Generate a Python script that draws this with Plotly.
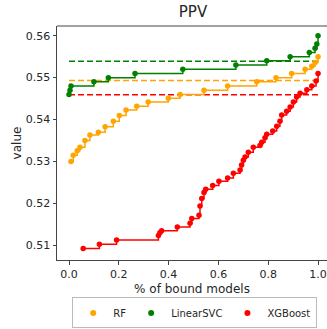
import plotly.graph_objects as go

# ---- data ----
rf_x = [0.008, 0.017, 0.033, 0.044, 0.064, 0.084, 0.118, 0.145, 0.178, 0.202, 0.229, 0.272,
        0.318, 0.399, 0.446, 0.542, 0.637, 0.754, 0.831, 0.894, 0.948, 0.975, 0.988, 1.0]
rf_y = [0.530, 0.5315, 0.5326, 0.5334, 0.535, 0.5363, 0.537, 0.5383, 0.5396, 0.541, 0.5423, 0.5432,
        0.5442, 0.5451, 0.546, 0.547, 0.548, 0.549, 0.550, 0.551, 0.552, 0.5527, 0.5536, 0.555]

svc_x = [0.0, 0.004, 0.008, 0.10, 0.158, 0.265, 0.457, 0.67, 0.794, 0.888, 0.965, 0.988, 0.995, 1.0]
svc_y = [0.546, 0.547, 0.548, 0.549, 0.550, 0.551, 0.552, 0.553, 0.554, 0.555, 0.556, 0.557, 0.558, 0.560]

xgb_x = [0.057, 0.122, 0.191, 0.359, 0.365, 0.372, 0.435, 0.486, 0.493, 0.522,
         0.526, 0.533, 0.542, 0.549, 0.577, 0.602, 0.637, 0.66, 0.687, 0.693,
         0.70, 0.707, 0.72, 0.74, 0.767, 0.774, 0.787, 0.794, 0.818, 0.834,
         0.847, 0.854, 0.874, 0.888, 0.901, 0.914, 0.928, 0.955, 0.975, 0.992, 1.0]
xgb_y = [0.5093, 0.5103, 0.5113, 0.5124, 0.513, 0.5135, 0.5144, 0.5153, 0.5164, 0.5172,
         0.5194, 0.5212, 0.5226, 0.5234, 0.5243, 0.5253, 0.5261, 0.5272, 0.528, 0.5292,
         0.5303, 0.5311, 0.5322, 0.5334, 0.5338, 0.5346, 0.5357, 0.5365, 0.5373, 0.5384,
         0.5396, 0.5411, 0.542, 0.543, 0.5442, 0.5454, 0.5463, 0.5471, 0.548, 0.5492, 0.551]

names = ["RF", "LinearSVC", "XGBoost"]
colors = ["orange", "green", "red"]
means = [0.5493, 0.5539, 0.5459]
xs = [rf_x, svc_x, xgb_x]
ys = [rf_y, svc_y, xgb_y]

FONT = "DejaVu Sans"
fig = go.Figure()

# mean dashed lines
for m, c in zip(means, colors):
    fig.add_trace(go.Scatter(x=[0, 1], y=[m, m], mode="lines",
                             line=dict(color=c, width=1.5, dash="6px,3px"),
                             showlegend=False, hoverinfo="skip"))

for x, y, c in zip(xs, ys, colors):
    fig.add_trace(go.Scatter(x=x, y=y, mode="lines+markers", line_shape="hv",
                             line=dict(color=c, width=1.5),
                             marker=dict(color=c, size=5.5),
                             showlegend=False))

for n, c in zip(names, colors):
    fig.add_trace(go.Scatter(x=[None], y=[None], mode="markers", name=n,
                             marker=dict(color=c, size=6)))

fig.update_layout(
    width=327, height=329,
    margin=dict(l=57, r=0, t=26, b=62),
    paper_bgcolor="white", plot_bgcolor="white",
    font=dict(family=FONT, size=11, color="#262626"),
    title=dict(text="PPV", x=(193) / 327, xanchor="center", y=1 - 12 / 329, yanchor="middle",
               font=dict(size=15, color="#262626")),
    xaxis=dict(range=[-0.0482, 1.036], tickvals=[0, 0.2, 0.4, 0.6, 0.8, 1.0],
               ticktext=["0.0", "0.2", "0.4", "0.6", "0.8", "1.0"],
               showgrid=False, zeroline=False, showline=True, linecolor="#444", linewidth=1,
               ticks="outside", ticklen=3.5, tickcolor="#444",
               title=dict(text="% of bound models", font=dict(size=12), standoff=4)),
    yaxis=dict(range=[0.50653, 0.56231], tickvals=[0.51, 0.52, 0.53, 0.54, 0.55, 0.56],
               ticktext=["0.51", "0.52", "0.53", "0.54", "0.55", "0.56"],
               showgrid=False, zeroline=False, showline=True, linecolor="#444", linewidth=1,
               ticks="outside", ticklen=3.5, tickcolor="#444",
               title=dict(text="value", font=dict(size=12), standoff=1)),
    legend=dict(orientation="h", x=0.51, xanchor="center", y=-0.16, yanchor="top",
                bordercolor="#bbbbbb", borderwidth=1, bgcolor="white",
                font=dict(size=10), itemwidth=30),
    shapes=[dict(type="line", xref="paper", yref="paper", x0=0, x1=1.05, y0=1, y1=1,
                 line=dict(color="#444", width=1))],
)

fig.write_html("out.html")
